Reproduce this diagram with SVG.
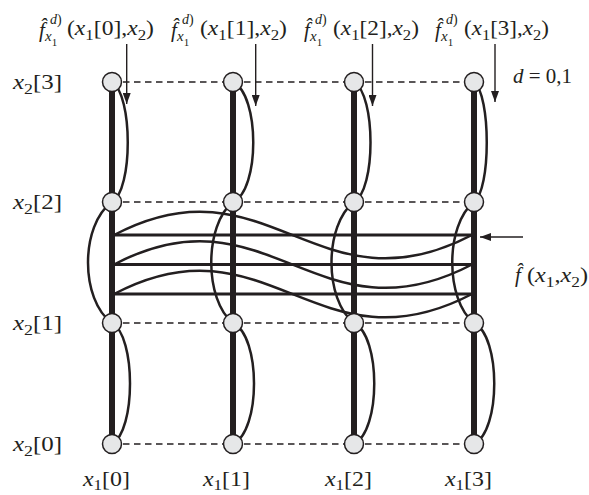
<svg xmlns="http://www.w3.org/2000/svg" width="589" height="495" viewBox="0 0 589 495">
<style>
.t{font-family:"Liberation Serif","Times New Roman",serif;font-size:21px;fill:#231f20}
.i{font-style:italic}
.s{font-size:15px}
.sp{font-size:14px}
.ss{font-size:11px}
.bar{stroke:#231f20;stroke-width:6;fill:none}
.h{stroke:#231f20;stroke-width:3;fill:none}
.c{stroke:#231f20;stroke-width:2.5;fill:none}
.d{stroke:#231f20;stroke-width:1.3;stroke-dasharray:6.5 4.5;fill:none}
.a{stroke:#231f20;stroke-width:1.4;fill:none;marker-end:url(#ah)}
.n{fill:#e6e7e8;stroke:#231f20;stroke-width:1.5}
</style>
<defs>
<marker id="ah" markerUnits="userSpaceOnUse" markerWidth="11" markerHeight="8" refX="11" refY="4" orient="auto">
<path d="M0,0 L11,4 L0,8 z" fill="#231f20"/>
</marker>
</defs>
<g id="connectors">
<g id="dashes">
<line class="d" x1="112" y1="82" x2="474" y2="82"/>
<line class="d" x1="112" y1="202" x2="474" y2="202"/>
<line class="d" x1="112" y1="323" x2="474" y2="323"/>
<line class="d" x1="112" y1="444" x2="474" y2="444"/>
</g>
<g id="bars">
<line class="bar" x1="112" y1="82" x2="112" y2="444"/>
<line class="bar" x1="233" y1="82" x2="233" y2="444"/>
<line class="bar" x1="354" y1="82" x2="354" y2="444"/>
<line class="bar" x1="474" y1="82" x2="474" y2="444"/>
</g>
<g id="hlines">
<line class="h" x1="112" y1="235" x2="474" y2="235"/>
<line class="h" x1="112" y1="264.5" x2="474" y2="264.5"/>
<line class="h" x1="112" y1="294" x2="474" y2="294"/>
</g>
<g id="waves">
<path class="c" d="M114,235 C267,154 317,316 472,235"/>
<path class="c" d="M114,264.5 C267,183.5 317,345.5 472,264.5"/>
<path class="c" d="M114,294 C267,213 317,375 472,294"/>
</g>
<g id="arcs">
<path class="c" d="M112,82 C133,95 133,190 112,202"/>
<path class="c" d="M112,202 C80,225 80,300 112,323"/>
<path class="c" d="M112,323 C136,336 136,431 112,444"/>
<path class="c" d="M233,82 C260,95 260,190 233,202"/>
<path class="c" d="M233,202 C204,225 204,300 233,323"/>
<path class="c" d="M233,323 C261,336 261,431 233,444"/>
<path class="c" d="M354,82 C376,95 376,190 354,202"/>
<path class="c" d="M354,202 C324,225 324,300 354,323"/>
<path class="c" d="M354,323 C381,336 381,431 354,444"/>
<path class="c" d="M474,82 C491,95 491,190 474,202"/>
<path class="c" d="M474,202 C445,225 445,300 474,323"/>
<path class="c" d="M474,323 C501,336 501,431 474,444"/>
</g>
<g id="arrows">
<line class="a" x1="126.7" y1="44" x2="126.7" y2="104"/>
<line class="a" x1="255.7" y1="44" x2="255.7" y2="106"/>
<line class="a" x1="372.5" y1="44" x2="372.5" y2="106"/>
<line class="a" x1="495" y1="44" x2="495" y2="102"/>
<line class="a" x1="523" y1="237" x2="480" y2="237"/>
</g>
</g>
<g id="nodes">
<g id="n00"><circle class="n" cx="112" cy="444" r="9.5"/></g>
<g id="n01"><circle class="n" cx="112" cy="323" r="9.5"/></g>
<g id="n02"><circle class="n" cx="112" cy="202" r="9.5"/></g>
<g id="n03"><circle class="n" cx="112" cy="82" r="9.5"/></g>
<g id="n10"><circle class="n" cx="233" cy="444" r="9.5"/></g>
<g id="n11"><circle class="n" cx="233" cy="323" r="9.5"/></g>
<g id="n12"><circle class="n" cx="233" cy="202" r="9.5"/></g>
<g id="n13"><circle class="n" cx="233" cy="82" r="9.5"/></g>
<g id="n20"><circle class="n" cx="354" cy="444" r="9.5"/></g>
<g id="n21"><circle class="n" cx="354" cy="323" r="9.5"/></g>
<g id="n22"><circle class="n" cx="354" cy="202" r="9.5"/></g>
<g id="n23"><circle class="n" cx="354" cy="82" r="9.5"/></g>
<g id="n30"><circle class="n" cx="474" cy="444" r="9.5"/></g>
<g id="n31"><circle class="n" cx="474" cy="323" r="9.5"/></g>
<g id="n32"><circle class="n" cx="474" cy="202" r="9.5"/></g>
<g id="n33"><circle class="n" cx="474" cy="82" r="9.5"/></g>
</g>
<g id="row-labels">
<text class="t" x="13" y="89" textLength="49" lengthAdjust="spacingAndGlyphs"><tspan class="i">x</tspan><tspan class="s" dy="5">2</tspan><tspan dy="-5">[3]</tspan></text>
<text class="t" x="13" y="209" textLength="49" lengthAdjust="spacingAndGlyphs"><tspan class="i">x</tspan><tspan class="s" dy="5">2</tspan><tspan dy="-5">[2]</tspan></text>
<text class="t" x="13" y="330" textLength="49" lengthAdjust="spacingAndGlyphs"><tspan class="i">x</tspan><tspan class="s" dy="5">2</tspan><tspan dy="-5">[1]</tspan></text>
<text class="t" x="13" y="451" textLength="49" lengthAdjust="spacingAndGlyphs"><tspan class="i">x</tspan><tspan class="s" dy="5">2</tspan><tspan dy="-5">[0]</tspan></text>
</g>
<g id="col-labels">
<text class="t" x="83" y="486" textLength="47" lengthAdjust="spacingAndGlyphs"><tspan class="i">x</tspan><tspan class="s" dy="4">1</tspan><tspan dy="-4">[0]</tspan></text>
<text class="t" x="203" y="486" textLength="47" lengthAdjust="spacingAndGlyphs"><tspan class="i">x</tspan><tspan class="s" dy="4">1</tspan><tspan dy="-4">[1]</tspan></text>
<text class="t" x="325" y="486" textLength="47" lengthAdjust="spacingAndGlyphs"><tspan class="i">x</tspan><tspan class="s" dy="4">1</tspan><tspan dy="-4">[2]</tspan></text>
<text class="t" x="445" y="486" textLength="47" lengthAdjust="spacingAndGlyphs"><tspan class="i">x</tspan><tspan class="s" dy="4">1</tspan><tspan dy="-4">[3]</tspan></text>
</g>
<g id="top-labels">
<g id="lab0">
<text class="t"><tspan class="i" x="39" y="37">f̂</tspan><tspan class="sp i" x="50" y="24">d</tspan><tspan class="sp">)</tspan><tspan class="s i" x="45" y="41">x</tspan><tspan class="ss" y="46">1</tspan></text>
<text class="t" x="67" y="35" textLength="87" lengthAdjust="spacingAndGlyphs">(<tspan class="i">x</tspan><tspan class="s" dy="5">1</tspan><tspan dy="-5">[0],</tspan><tspan class="i">x</tspan><tspan class="s" dy="5">2</tspan><tspan dy="-5">)</tspan></text>
</g>
<g id="lab1">
<text class="t"><tspan class="i" x="171" y="37">f̂</tspan><tspan class="sp i" x="182" y="24">d</tspan><tspan class="sp">)</tspan><tspan class="s i" x="177" y="41">x</tspan><tspan class="ss" y="46">1</tspan></text>
<text class="t" x="200" y="35" textLength="87" lengthAdjust="spacingAndGlyphs">(<tspan class="i">x</tspan><tspan class="s" dy="5">1</tspan><tspan dy="-5">[1],</tspan><tspan class="i">x</tspan><tspan class="s" dy="5">2</tspan><tspan dy="-5">)</tspan></text>
</g>
<g id="lab2">
<text class="t"><tspan class="i" x="304" y="37">f̂</tspan><tspan class="sp i" x="315" y="24">d</tspan><tspan class="sp">)</tspan><tspan class="s i" x="310" y="41">x</tspan><tspan class="ss" y="46">1</tspan></text>
<text class="t" x="333" y="35" textLength="86" lengthAdjust="spacingAndGlyphs">(<tspan class="i">x</tspan><tspan class="s" dy="5">1</tspan><tspan dy="-5">[2],</tspan><tspan class="i">x</tspan><tspan class="s" dy="5">2</tspan><tspan dy="-5">)</tspan></text>
</g>
<g id="lab3">
<text class="t"><tspan class="i" x="435" y="37">f̂</tspan><tspan class="sp i" x="446" y="24">d</tspan><tspan class="sp">)</tspan><tspan class="s i" x="441" y="41">x</tspan><tspan class="ss" y="46">1</tspan></text>
<text class="t" x="464" y="35" textLength="85" lengthAdjust="spacingAndGlyphs">(<tspan class="i">x</tspan><tspan class="s" dy="5">1</tspan><tspan dy="-5">[3],</tspan><tspan class="i">x</tspan><tspan class="s" dy="5">2</tspan><tspan dy="-5">)</tspan></text>
</g>
</g>
<g id="d-label"><text class="t" x="513" y="83" textLength="59" lengthAdjust="spacingAndGlyphs"><tspan class="i">d</tspan> = 0,1</text></g>
<g id="f-label">
<text class="t i" x="515" y="282">f̂</text>
<text class="t" x="527" y="282" textLength="61" lengthAdjust="spacingAndGlyphs">(<tspan class="i">x</tspan><tspan class="s" dy="5">1</tspan><tspan dy="-5">,</tspan><tspan class="i">x</tspan><tspan class="s" dy="5">2</tspan><tspan dy="-5">)</tspan></text>
</g>
</svg>
